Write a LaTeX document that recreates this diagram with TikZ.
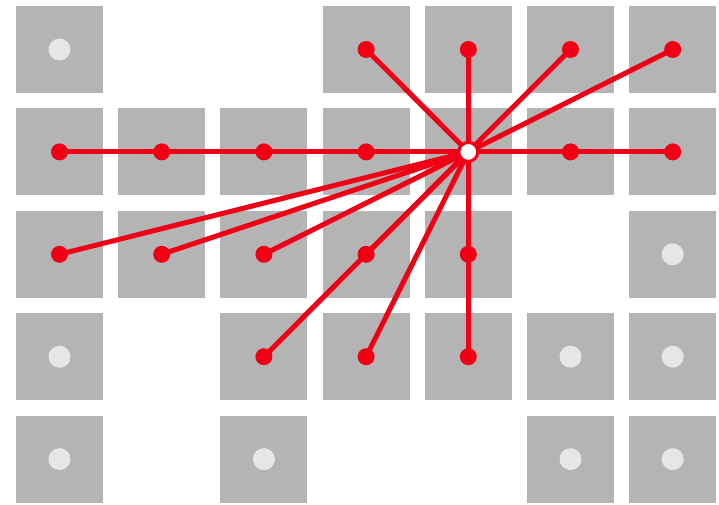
\documentclass[tikz,border=0pt]{standalone}
\usepackage{tikz}

\definecolor{cellgray}{RGB}{180,180,180}
\definecolor{dotgray}{RGB}{230,230,230}
\definecolor{linkred}{RGB}{240,0,20}

\begin{document}
\begin{tikzpicture}[x=1pt,y=-1pt,
    cell/.style={fill=cellgray,draw=none,minimum size=87pt,inner sep=0pt},
    spoke/.style={linkred,line width=5pt}]
            \useasboundingbox (0,0) rectangle (719,505);

            % grid cells that are present
            \foreach \i/\j in {0/0,3/0,4/0,5/0,6/0,
                               0/1,1/1,2/1,3/1,4/1,5/1,6/1,
                               0/2,1/2,2/2,3/2,4/2,6/2,
                               0/3,2/3,3/3,4/3,5/3,6/3,
                               0/4,2/4,5/4,6/4}{
                \node[cell] (c\i\j) at ({59.5+102.2*\i},{49.5+102.4*\j}) {};
            }

            % unconnected cells
            \foreach \p in {c00,c62,c03,c53,c63,c04,c24,c54,c64}{
                \fill[dotgray] (\p) circle (11pt);
            }

            % connections to the hub
            \foreach \p in {c30,c40,c50,c60,c01,c11,c21,c31,c51,c61,
                            c02,c12,c22,c32,c42,c23,c33,c43}{
                \draw[spoke] (c41.center)--(\p.center);
            }
            \foreach \p in {c30,c40,c50,c60,c01,c11,c21,c31,c51,c61,
                            c02,c12,c22,c32,c42,c23,c33,c43}{
                \fill[linkred] (\p) circle (8.5pt);
            }

            \filldraw[fill=white,draw=linkred,line width=3pt] (c41) circle (9.5pt);
        \end{tikzpicture}
\end{document}
